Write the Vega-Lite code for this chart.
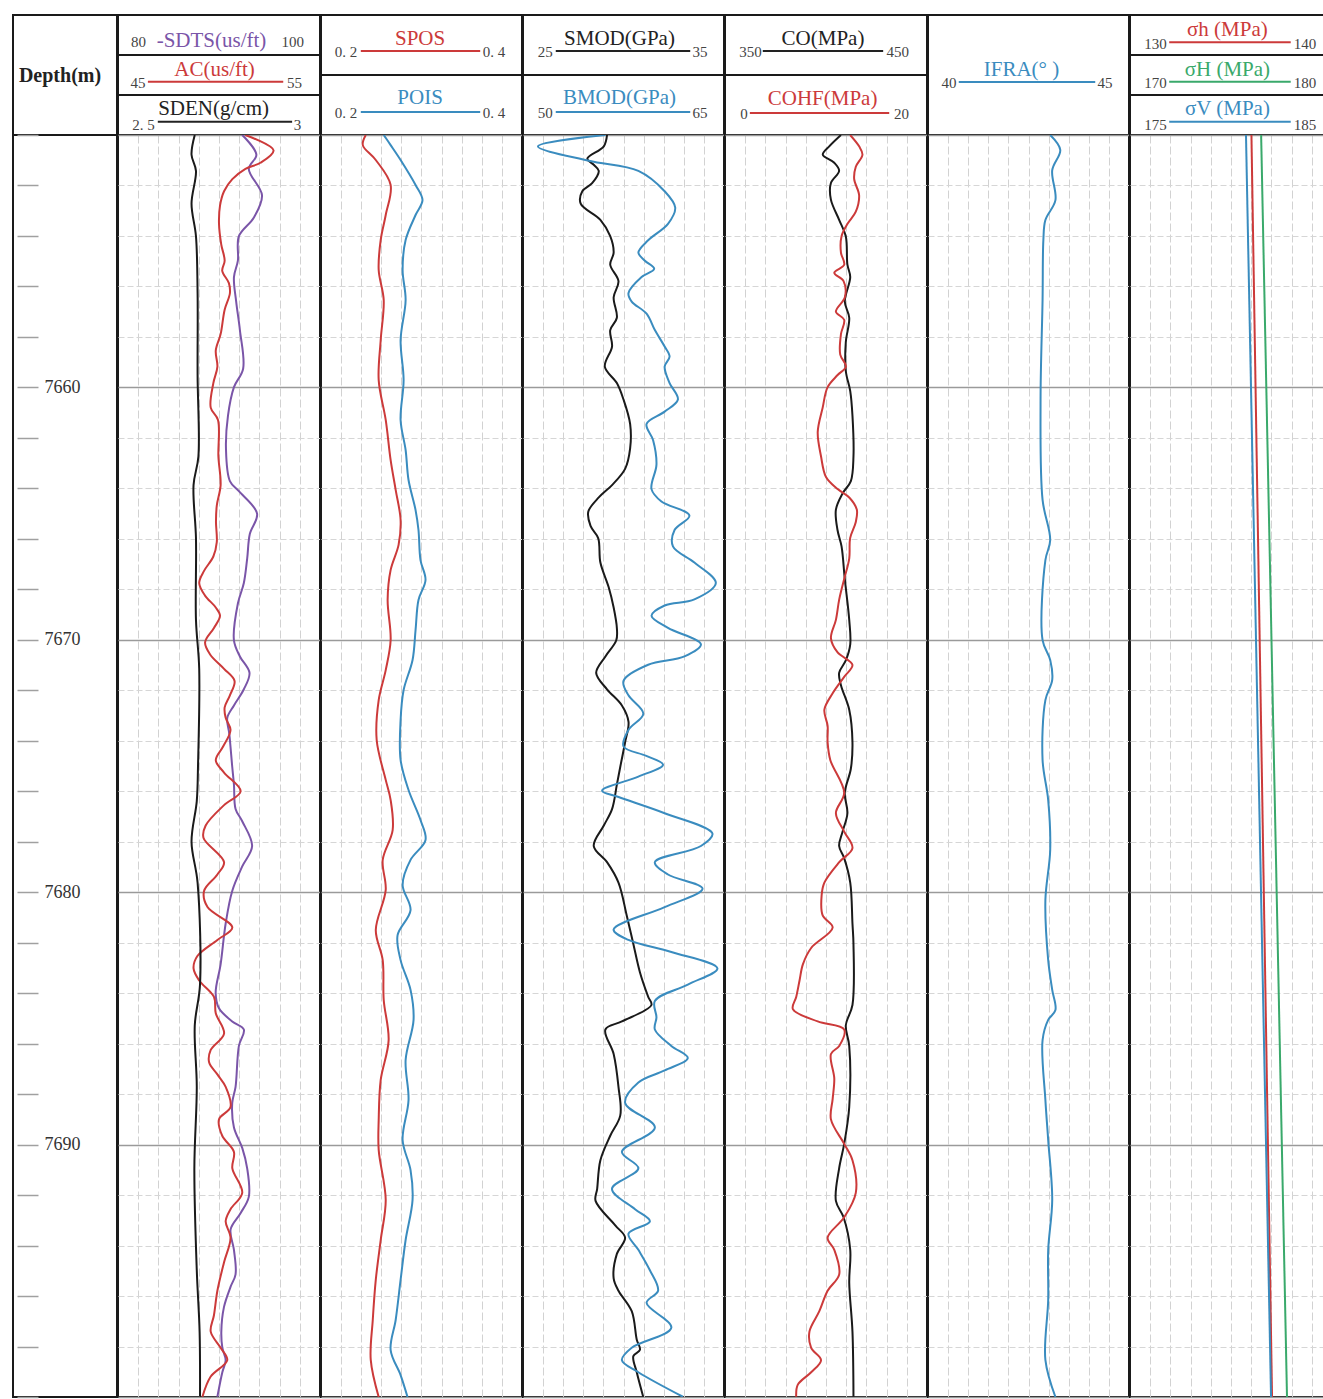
{
  "$schema": "https://vega.github.io/schema/vega-lite/v6.json",
  "padding": {"left": 12, "top": 14, "right": 0, "bottom": 1},
  "background": "white",
  "bounds": "full",
  "spacing": -2,
  "config": {
    "view": {"stroke": "#1a1a1a", "strokeWidth": 2},
    "text": {"font": "Liberation Serif"}
  },
  "resolve": {"scale": {"x": "independent", "y": "independent"}},
  "datasets": {
    "cell": [{}],
    "depthTicks": [{"d":7650},{"d":7652},{"d":7654},{"d":7656},{"d":7658},{"d":7660},{"d":7662},{"d":7664},{"d":7666},{"d":7668},{"d":7670},{"d":7672},{"d":7674},{"d":7676},{"d":7678},{"d":7680},{"d":7682},{"d":7684},{"d":7686},{"d":7688},{"d":7690},{"d":7692},{"d":7694},{"d":7696},{"d":7698},{"d":7700}],
    "sdts": [{"d":7650.0,"v":92.3},{"d":7650.78,"v":93.7},{"d":7651.34,"v":92.95},{"d":7652.39,"v":94.26},{"d":7653.28,"v":93.44},{"d":7654.01,"v":91.97},{"d":7654.98,"v":91.87},{"d":7655.63,"v":91.48},{"d":7656.6,"v":91.7},{"d":7657.73,"v":92.07},{"d":7659.26,"v":92.39},{"d":7659.99,"v":91.48},{"d":7661.12,"v":90.89},{"d":7662.42,"v":90.69},{"d":7663.71,"v":91.08},{"d":7664.11,"v":91.97},{"d":7665.0,"v":93.77},{"d":7665.81,"v":93.05},{"d":7666.78,"v":92.79},{"d":7667.75,"v":92.46},{"d":7668.56,"v":91.87},{"d":7670.02,"v":91.48},{"d":7670.66,"v":92.07},{"d":7671.31,"v":93.02},{"d":7671.96,"v":92.46},{"d":7672.6,"v":91.48},{"d":7673.09,"v":90.82},{"d":7673.73,"v":91.02},{"d":7675.03,"v":91.31},{"d":7675.74,"v":91.48},{"d":7676.7,"v":91.64},{"d":7677.19,"v":92.3},{"d":7678.17,"v":93.28},{"d":7678.98,"v":92.3},{"d":7679.95,"v":91.31},{"d":7681.24,"v":90.66},{"d":7682.86,"v":90.16},{"d":7683.99,"v":89.67},{"d":7684.6,"v":90.0},{"d":7685.12,"v":91.31},{"d":7685.44,"v":92.46},{"d":7686.09,"v":91.97},{"d":7687.71,"v":91.64},{"d":7688.35,"v":91.31},{"d":7689.32,"v":91.48},{"d":7690.13,"v":92.3},{"d":7690.94,"v":92.79},{"d":7692.07,"v":92.95},{"d":7692.72,"v":92.13},{"d":7693.36,"v":91.15},{"d":7694.17,"v":91.48},{"d":7695.14,"v":91.64},{"d":7695.63,"v":91.15},{"d":7696.44,"v":90.49},{"d":7697.41,"v":90.23},{"d":7698.05,"v":90.33},{"d":7698.54,"v":90.66},{"d":7699.02,"v":90.33},{"d":7699.99,"v":89.84}],
    "ac": [{"d":7650.0,"v":51.3},{"d":7650.61,"v":52.7},{"d":7651.1,"v":52.05},{"d":7651.34,"v":51.31},{"d":7651.75,"v":50.66},{"d":7652.23,"v":50.25},{"d":7652.8,"v":50.05},{"d":7653.52,"v":50.0},{"d":7654.33,"v":50.11},{"d":7654.98,"v":50.28},{"d":7655.38,"v":50.16},{"d":7655.87,"v":50.49},{"d":7656.27,"v":50.54},{"d":7656.92,"v":50.28},{"d":7657.89,"v":50.08},{"d":7658.54,"v":49.84},{"d":7659.18,"v":49.92},{"d":7659.83,"v":49.72},{"d":7660.8,"v":49.59},{"d":7661.29,"v":49.95},{"d":7662.74,"v":49.97},{"d":7663.87,"v":50.08},{"d":7664.68,"v":49.89},{"d":7665.33,"v":49.85},{"d":7666.13,"v":49.89},{"d":7666.7,"v":49.72},{"d":7667.27,"v":49.26},{"d":7667.75,"v":49.02},{"d":7668.24,"v":49.3},{"d":7668.72,"v":49.84},{"d":7669.05,"v":50.05},{"d":7669.53,"v":49.75},{"d":7670.1,"v":49.31},{"d":7670.58,"v":49.56},{"d":7671.15,"v":50.25},{"d":7671.63,"v":50.77},{"d":7672.2,"v":50.54},{"d":7672.68,"v":50.28},{"d":7673.09,"v":50.33},{"d":7673.57,"v":50.57},{"d":7674.22,"v":50.21},{"d":7674.77,"v":49.84},{"d":7675.26,"v":50.25},{"d":7676.0,"v":51.07},{"d":7676.55,"v":50.25},{"d":7677.36,"v":49.34},{"d":7677.84,"v":49.23},{"d":7678.81,"v":50.25},{"d":7679.3,"v":49.92},{"d":7679.95,"v":49.26},{"d":7680.59,"v":49.43},{"d":7681.4,"v":50.66},{"d":7681.89,"v":49.92},{"d":7682.53,"v":48.93},{"d":7683.02,"v":48.74},{"d":7683.5,"v":49.02},{"d":7684.15,"v":49.75},{"d":7684.8,"v":49.84},{"d":7685.6,"v":50.25},{"d":7686.25,"v":49.59},{"d":7686.74,"v":49.51},{"d":7687.22,"v":49.92},{"d":7687.71,"v":50.33},{"d":7688.51,"v":50.57},{"d":7689.0,"v":50.0},{"d":7689.65,"v":50.16},{"d":7690.29,"v":50.74},{"d":7690.94,"v":50.66},{"d":7691.91,"v":51.15},{"d":7692.56,"v":50.57},{"d":7693.04,"v":50.33},{"d":7693.69,"v":50.57},{"d":7694.66,"v":50.25},{"d":7695.79,"v":49.92},{"d":7696.76,"v":49.75},{"d":7697.41,"v":49.59},{"d":7698.05,"v":50.08},{"d":7698.54,"v":50.41},{"d":7699.19,"v":49.59},{"d":7699.99,"v":49.18}],
    "sden": [{"d":7650.0,"v":2.69},{"d":7650.78,"v":2.682},{"d":7651.42,"v":2.693},{"d":7652.72,"v":2.682},{"d":7654.01,"v":2.693},{"d":7656.27,"v":2.697},{"d":7659.51,"v":2.697},{"d":7662.74,"v":2.699},{"d":7663.87,"v":2.687},{"d":7665.97,"v":2.693},{"d":7669.21,"v":2.693},{"d":7671.15,"v":2.701},{"d":7675.03,"v":2.698},{"d":7676.39,"v":2.695},{"d":7678.0,"v":2.682},{"d":7679.62,"v":2.697},{"d":7683.66,"v":2.703},{"d":7685.28,"v":2.69},{"d":7687.71,"v":2.695},{"d":7690.94,"v":2.689},{"d":7694.98,"v":2.695},{"d":7697.41,"v":2.702},{"d":7699.99,"v":2.703}],
    "spos": [{"d":7650.0,"v":0.2446},{"d":7650.4,"v":0.2416},{"d":7650.99,"v":0.2545},{"d":7651.98,"v":0.2693},{"d":7653.17,"v":0.2644},{"d":7654.16,"v":0.2594},{"d":7655.35,"v":0.2574},{"d":7656.54,"v":0.2624},{"d":7658.12,"v":0.2594},{"d":7659.71,"v":0.2574},{"d":7661.29,"v":0.2644},{"d":7662.88,"v":0.2693},{"d":7664.06,"v":0.2743},{"d":7665.25,"v":0.2792},{"d":7666.24,"v":0.2772},{"d":7667.23,"v":0.2693},{"d":7668.42,"v":0.2663},{"d":7670.01,"v":0.2693},{"d":7671.2,"v":0.2644},{"d":7672.39,"v":0.2574},{"d":7673.97,"v":0.2554},{"d":7675.55,"v":0.2644},{"d":7676.35,"v":0.2693},{"d":7677.54,"v":0.2713},{"d":7678.72,"v":0.2614},{"d":7679.91,"v":0.2644},{"d":7681.5,"v":0.2545},{"d":7682.69,"v":0.2614},{"d":7684.27,"v":0.2624},{"d":7685.86,"v":0.2673},{"d":7687.44,"v":0.2594},{"d":7689.03,"v":0.2574},{"d":7690.21,"v":0.2574},{"d":7692.19,"v":0.2644},{"d":7693.78,"v":0.2594},{"d":7695.36,"v":0.2545},{"d":7696.95,"v":0.2515},{"d":7698.53,"v":0.2495},{"d":7700.0,"v":0.2574}],
    "pois": [{"d":7650.0,"v":0.2624},{"d":7650.4,"v":0.2693},{"d":7650.99,"v":0.2792},{"d":7651.98,"v":0.2941},{"d":7652.58,"v":0.301},{"d":7653.17,"v":0.2941},{"d":7654.16,"v":0.2842},{"d":7655.35,"v":0.2812},{"d":7656.54,"v":0.2842},{"d":7658.12,"v":0.2792},{"d":7659.71,"v":0.2822},{"d":7661.29,"v":0.2792},{"d":7662.48,"v":0.2842},{"d":7663.67,"v":0.2871},{"d":7664.86,"v":0.2941},{"d":7665.65,"v":0.297},{"d":7666.84,"v":0.299},{"d":7667.63,"v":0.304},{"d":7668.42,"v":0.297},{"d":7669.61,"v":0.2941},{"d":7670.8,"v":0.2911},{"d":7671.99,"v":0.2822},{"d":7673.18,"v":0.2792},{"d":7674.76,"v":0.2792},{"d":7675.95,"v":0.2871},{"d":7677.14,"v":0.299},{"d":7677.93,"v":0.304},{"d":7678.72,"v":0.2891},{"d":7679.71,"v":0.2812},{"d":7680.71,"v":0.2891},{"d":7681.7,"v":0.2762},{"d":7682.69,"v":0.2792},{"d":7683.87,"v":0.2891},{"d":7685.06,"v":0.2921},{"d":7686.65,"v":0.2842},{"d":7688.23,"v":0.2871},{"d":7689.82,"v":0.2812},{"d":7691.01,"v":0.2891},{"d":7692.19,"v":0.2911},{"d":7693.78,"v":0.2842},{"d":7695.36,"v":0.2792},{"d":7696.95,"v":0.2743},{"d":7698.14,"v":0.2693},{"d":7699.13,"v":0.2792},{"d":7700.0,"v":0.2861}],
    "smod": [{"d":7650.0,"v":29.18},{"d":7650.45,"v":29.02},{"d":7650.94,"v":28.2},{"d":7651.18,"v":28.52},{"d":7651.42,"v":28.77},{"d":7651.91,"v":28.44},{"d":7652.23,"v":27.95},{"d":7652.72,"v":27.87},{"d":7653.36,"v":28.85},{"d":7654.01,"v":29.34},{"d":7654.66,"v":29.51},{"d":7655.14,"v":29.34},{"d":7655.79,"v":29.75},{"d":7656.43,"v":29.51},{"d":7657.24,"v":29.67},{"d":7657.73,"v":29.34},{"d":7658.38,"v":29.43},{"d":7659.18,"v":29.07},{"d":7659.83,"v":29.67},{"d":7660.48,"v":30.0},{"d":7661.45,"v":30.33},{"d":7662.42,"v":30.33},{"d":7663.23,"v":30.08},{"d":7663.87,"v":29.43},{"d":7664.36,"v":28.77},{"d":7664.92,"v":28.25},{"d":7665.49,"v":28.36},{"d":7665.97,"v":28.74},{"d":7666.94,"v":28.85},{"d":7667.91,"v":29.26},{"d":7668.72,"v":29.51},{"d":7669.53,"v":29.67},{"d":7670.02,"v":29.64},{"d":7670.66,"v":29.1},{"d":7671.31,"v":28.64},{"d":7671.96,"v":29.18},{"d":7672.6,"v":29.92},{"d":7673.25,"v":30.25},{"d":7674.06,"v":30.08},{"d":7675.03,"v":29.84},{"d":7675.74,"v":29.67},{"d":7676.71,"v":29.43},{"d":7677.36,"v":29.02},{"d":7678.17,"v":28.52},{"d":7678.81,"v":29.18},{"d":7679.62,"v":29.75},{"d":7680.92,"v":30.16},{"d":7682.05,"v":30.49},{"d":7683.18,"v":30.82},{"d":7684.15,"v":31.23},{"d":7684.47,"v":31.39},{"d":7685.12,"v":29.92},{"d":7685.44,"v":29.1},{"d":7686.41,"v":29.51},{"d":7687.71,"v":29.75},{"d":7688.84,"v":29.84},{"d":7689.65,"v":29.34},{"d":7690.62,"v":28.85},{"d":7691.75,"v":28.69},{"d":7692.23,"v":28.61},{"d":7693.2,"v":29.59},{"d":7693.69,"v":30.08},{"d":7694.33,"v":29.67},{"d":7695.3,"v":29.51},{"d":7695.79,"v":29.75},{"d":7696.6,"v":30.41},{"d":7697.73,"v":30.66},{"d":7698.13,"v":30.82},{"d":7698.38,"v":30.49},{"d":7699.02,"v":30.66},{"d":7699.99,"v":30.98}],
    "bmod": [{"d":7650.0,"v":56.15},{"d":7650.45,"v":51.11},{"d":7651.02,"v":54.92},{"d":7651.42,"v":58.61},{"d":7652.23,"v":60.57},{"d":7652.88,"v":61.36},{"d":7653.52,"v":60.82},{"d":7654.17,"v":59.34},{"d":7654.66,"v":58.61},{"d":7654.98,"v":59.1},{"d":7655.3,"v":59.79},{"d":7655.63,"v":58.85},{"d":7656.27,"v":57.87},{"d":7656.6,"v":58.11},{"d":7657.08,"v":59.22},{"d":7657.73,"v":59.84},{"d":7658.38,"v":60.57},{"d":7658.78,"v":60.94},{"d":7659.18,"v":60.57},{"d":7659.83,"v":60.94},{"d":7660.48,"v":61.56},{"d":7660.96,"v":60.57},{"d":7661.45,"v":59.22},{"d":7662.09,"v":59.71},{"d":7663.06,"v":59.96},{"d":7664.03,"v":59.59},{"d":7664.52,"v":60.33},{"d":7665.08,"v":62.42},{"d":7665.65,"v":61.31},{"d":7666.3,"v":61.19},{"d":7666.94,"v":62.79},{"d":7667.75,"v":64.39},{"d":7668.4,"v":62.79},{"d":7668.64,"v":60.57},{"d":7669.05,"v":59.59},{"d":7669.53,"v":60.82},{"d":7670.18,"v":63.28},{"d":7670.66,"v":62.05},{"d":7670.99,"v":59.34},{"d":7671.63,"v":57.5},{"d":7672.2,"v":57.87},{"d":7672.93,"v":58.98},{"d":7673.57,"v":57.87},{"d":7674.22,"v":57.5},{"d":7674.6,"v":59.2},{"d":7674.95,"v":60.45},{"d":7675.42,"v":58.61},{"d":7675.98,"v":55.9},{"d":7676.23,"v":57.13},{"d":7676.87,"v":60.57},{"d":7677.68,"v":64.14},{"d":7678.17,"v":63.28},{"d":7678.81,"v":59.84},{"d":7679.3,"v":60.82},{"d":7679.86,"v":63.4},{"d":7680.59,"v":60.57},{"d":7681.48,"v":56.76},{"d":7681.89,"v":57.87},{"d":7682.37,"v":61.07},{"d":7683.02,"v":64.51},{"d":7683.66,"v":62.3},{"d":7684.31,"v":59.84},{"d":7684.96,"v":59.96},{"d":7685.44,"v":59.84},{"d":7686.09,"v":61.07},{"d":7686.57,"v":62.3},{"d":7687.06,"v":60.57},{"d":7687.54,"v":58.61},{"d":7688.35,"v":57.62},{"d":7689.32,"v":59.84},{"d":7690.29,"v":57.38},{"d":7690.94,"v":58.61},{"d":7691.75,"v":56.64},{"d":7692.56,"v":58.36},{"d":7693.04,"v":59.47},{"d":7693.53,"v":57.87},{"d":7694.17,"v":58.61},{"d":7694.98,"v":59.47},{"d":7695.79,"v":60.08},{"d":7696.27,"v":59.22},{"d":7697.25,"v":61.07},{"d":7698.05,"v":58.11},{"d":7698.54,"v":57.38},{"d":7699.02,"v":58.61},{"d":7699.99,"v":61.93}],
    "co": [{"d":7650.0,"v":407.4},{"d":7650.45,"v":401.6},{"d":7650.78,"v":398.4},{"d":7651.1,"v":404.1},{"d":7651.42,"v":406.5},{"d":7651.91,"v":402.4},{"d":7652.55,"v":402.4},{"d":7653.36,"v":406.5},{"d":7654.01,"v":409.8},{"d":7655.14,"v":410.6},{"d":7655.63,"v":412.0},{"d":7656.6,"v":409.3},{"d":7657.24,"v":411.5},{"d":7658.21,"v":409.8},{"d":7659.35,"v":409.8},{"d":7660.15,"v":412.0},{"d":7661.12,"v":413.1},{"d":7662.74,"v":413.6},{"d":7663.71,"v":412.3},{"d":7664.2,"v":408.2},{"d":7664.84,"v":404.9},{"d":7665.65,"v":405.7},{"d":7666.3,"v":407.7},{"d":7667.59,"v":409.3},{"d":7669.21,"v":411.5},{"d":7670.18,"v":412.0},{"d":7670.82,"v":409.8},{"d":7671.31,"v":406.5},{"d":7671.8,"v":407.4},{"d":7672.77,"v":411.5},{"d":7674.06,"v":413.1},{"d":7675.11,"v":412.3},{"d":7676.06,"v":409.3},{"d":7676.87,"v":410.6},{"d":7677.6,"v":408.2},{"d":7678.17,"v":406.5},{"d":7678.65,"v":409.0},{"d":7679.62,"v":412.0},{"d":7681.24,"v":413.1},{"d":7682.05,"v":413.6},{"d":7684.47,"v":413.1},{"d":7685.28,"v":409.8},{"d":7686.09,"v":411.5},{"d":7688.51,"v":411.5},{"d":7689.97,"v":409.0},{"d":7690.94,"v":406.5},{"d":7692.23,"v":404.9},{"d":7692.88,"v":408.7},{"d":7694.17,"v":412.0},{"d":7695.47,"v":411.5},{"d":7697.41,"v":413.1},{"d":7699.99,"v":413.6}],
    "cohf": [{"d":7650.0,"v":12.39},{"d":7650.45,"v":13.28},{"d":7650.78,"v":13.61},{"d":7651.26,"v":12.95},{"d":7651.75,"v":12.79},{"d":7652.39,"v":13.28},{"d":7653.04,"v":12.95},{"d":7653.52,"v":12.13},{"d":7654.01,"v":11.54},{"d":7654.66,"v":11.48},{"d":7655.14,"v":11.8},{"d":7655.46,"v":10.82},{"d":7655.79,"v":11.74},{"d":7656.43,"v":11.87},{"d":7657.0,"v":10.98},{"d":7657.32,"v":11.8},{"d":7657.89,"v":11.48},{"d":7658.7,"v":11.41},{"d":7659.18,"v":11.97},{"d":7659.51,"v":11.15},{"d":7659.99,"v":10.16},{"d":7660.8,"v":9.67},{"d":7661.77,"v":9.18},{"d":7662.74,"v":9.51},{"d":7663.55,"v":10.0},{"d":7664.03,"v":11.15},{"d":7664.36,"v":12.3},{"d":7664.84,"v":13.05},{"d":7665.33,"v":12.95},{"d":7665.97,"v":12.39},{"d":7666.78,"v":12.3},{"d":7667.59,"v":11.8},{"d":7668.4,"v":11.31},{"d":7669.21,"v":10.98},{"d":7669.94,"v":10.49},{"d":7670.5,"v":11.15},{"d":7670.99,"v":12.62},{"d":7671.47,"v":11.8},{"d":7672.12,"v":10.66},{"d":7672.77,"v":9.84},{"d":7673.41,"v":10.16},{"d":7674.06,"v":10.16},{"d":7674.77,"v":10.43},{"d":7676.06,"v":11.8},{"d":7676.87,"v":10.98},{"d":7677.6,"v":11.8},{"d":7678.25,"v":12.62},{"d":7678.81,"v":11.31},{"d":7679.62,"v":9.84},{"d":7680.11,"v":9.57},{"d":7680.92,"v":9.67},{"d":7681.4,"v":10.66},{"d":7682.21,"v":8.53},{"d":7682.86,"v":7.71},{"d":7683.5,"v":7.38},{"d":7684.15,"v":7.05},{"d":7684.63,"v":6.72},{"d":7685.12,"v":9.18},{"d":7685.44,"v":11.8},{"d":7686.09,"v":11.31},{"d":7686.41,"v":10.49},{"d":7687.38,"v":10.82},{"d":7688.19,"v":10.66},{"d":7689.0,"v":10.49},{"d":7689.97,"v":11.8},{"d":7690.62,"v":12.62},{"d":7691.91,"v":12.95},{"d":7692.88,"v":11.8},{"d":7693.69,"v":10.16},{"d":7694.17,"v":10.82},{"d":7695.14,"v":11.31},{"d":7695.79,"v":10.16},{"d":7696.6,"v":9.34},{"d":7697.41,"v":8.36},{"d":7698.05,"v":8.53},{"d":7698.54,"v":9.51},{"d":7699.02,"v":8.53},{"d":7699.51,"v":7.21},{"d":7699.99,"v":7.05}],
    "ifra": [{"d":7650.0,"v":43.04},{"d":7650.59,"v":43.29},{"d":7651.39,"v":43.09},{"d":7652.58,"v":43.17},{"d":7653.37,"v":42.92},{"d":7654.16,"v":42.87},{"d":7656.54,"v":42.85},{"d":7660.5,"v":42.8},{"d":7664.46,"v":42.85},{"d":7666.05,"v":43.04},{"d":7666.84,"v":42.92},{"d":7670.01,"v":42.85},{"d":7670.8,"v":43.04},{"d":7671.59,"v":43.09},{"d":7672.39,"v":42.92},{"d":7674.76,"v":42.85},{"d":7676.35,"v":42.99},{"d":7678.33,"v":43.04},{"d":7680.31,"v":42.92},{"d":7682.69,"v":42.99},{"d":7683.87,"v":43.09},{"d":7684.67,"v":43.17},{"d":7685.06,"v":42.99},{"d":7685.86,"v":42.85},{"d":7688.23,"v":42.92},{"d":7689.82,"v":42.99},{"d":7692.19,"v":43.09},{"d":7694.18,"v":42.99},{"d":7696.16,"v":42.99},{"d":7698.53,"v":42.92},{"d":7700.0,"v":43.17}],
    "sh": [{"d":7650,"v":136.01},{"d":7700,"v":137.03}],
    "sH": [{"d":7650,"v":176.49},{"d":7700,"v":177.77}],
    "sV": [{"d":7650,"v":180.74},{"d":7700,"v":181.98}]
  },
  "hconcat": [
    {
      "spacing": 0, "bounds": "flush",
      "resolve": {"scale": {"x": "independent", "y": "independent"}},
      "vconcat": [
        {"width": 104, "height": 120, "data": {"name": "cell"},
         "mark": {"type": "text", "text": "Depth(m)", "fontSize": 20, "fontWeight": "bold", "color": "#222"},
         "encoding": {"x": {"datum": 0.452, "scale": {"domain": [0, 1]}, "axis": null}, "y": {"datum": 0.51, "scale": {"domain": [0, 1], "reverse": true}, "axis": null}}},
        {"width": 104, "height": 1262,
         "data": {"name": "depthTicks"},
         "mark": {"type": "point", "opacity": 0},
         "encoding": {"y": {"field": "d", "type": "quantitative", "scale": {"domain": [7650, 7700], "reverse": true, "zero": false, "nice": false},
           "axis": {"orient": "right", "offset": -100, "values": [7650,7652,7654,7656,7658,7660,7662,7664,7666,7668,7670,7672,7674,7676,7678,7680,7682,7684,7686,7688,7690,7692,7694,7696,7698,7700],
             "tickSize": 21, "tickColor": "#a0a0a0", "tickWidth": 1.5, "domain": false, "grid": false, "title": null, "format": "d",
             "labelExpr": "datum.value % 10 === 0 && datum.value > 7650 && datum.value < 7700 ? datum.label : ''",
             "labelFont": "Liberation Serif", "labelFontSize": 18, "labelColor": "#333", "labelPadding": 6}}}}
      ]
    },
    {
      "spacing": 0, "bounds": "flush",
      "resolve": {"scale": {"x": "independent", "y": "independent"}},
      "vconcat": [
        {"width": 202, "height": 40, "data": {"name": "cell"}, "layer": [
          {"mark": {"type": "text", "text": "80", "fontSize": 15, "color": "#444"}, "encoding": {"x": {"datum": 0.101, "scale": {"domain": [0, 1]}, "axis": null}, "y": {"datum": 0.68, "scale": {"domain": [0, 1], "reverse": true}, "axis": null}}},
          {"mark": {"type": "text", "text": "-SDTS(us/ft)", "fontSize": 21, "color": "#7a55a8"}, "encoding": {"x": {"datum": 0.463, "scale": {"domain": [0, 1]}, "axis": null}, "y": {"datum": 0.64, "scale": {"domain": [0, 1], "reverse": true}, "axis": null}}},
          {"mark": {"type": "text", "text": "100", "fontSize": 15, "color": "#444"}, "encoding": {"x": {"datum": 0.865, "scale": {"domain": [0, 1]}, "axis": null}, "y": {"datum": 0.68, "scale": {"domain": [0, 1], "reverse": true}, "axis": null}}}
        ]},
        {"width": 202, "height": 40, "data": {"name": "cell"}, "layer": [
          {"mark": {"type": "text", "text": "AC(us/ft)", "fontSize": 21, "color": "#cc3a3a"}, "encoding": {"x": {"datum": 0.478, "scale": {"domain": [0, 1]}, "axis": null}, "y": {"datum": 0.37, "scale": {"domain": [0, 1], "reverse": true}, "axis": null}}},
          {"mark": {"type": "rule", "color": "#cc3a3a", "strokeWidth": 2}, "encoding": {"x": {"datum": 0.148, "scale": {"domain": [0, 1]}, "axis": null}, "x2": {"datum": 0.818}, "y": {"datum": 0.667, "scale": {"domain": [0, 1], "reverse": true}, "axis": null}}},
          {"mark": {"type": "text", "text": "45", "fontSize": 15, "color": "#444"}, "encoding": {"x": {"datum": 0.099, "scale": {"domain": [0, 1]}, "axis": null}, "y": {"datum": 0.71, "scale": {"domain": [0, 1], "reverse": true}, "axis": null}}},
          {"mark": {"type": "text", "text": "55", "fontSize": 15, "color": "#444"}, "encoding": {"x": {"datum": 0.874, "scale": {"domain": [0, 1]}, "axis": null}, "y": {"datum": 0.71, "scale": {"domain": [0, 1], "reverse": true}, "axis": null}}}
        ]},
        {"width": 202, "height": 40, "data": {"name": "cell"}, "layer": [
          {"mark": {"type": "text", "text": "SDEN(g/cm)", "fontSize": 21, "color": "#222"}, "encoding": {"x": {"datum": 0.473, "scale": {"domain": [0, 1]}, "axis": null}, "y": {"datum": 0.36, "scale": {"domain": [0, 1], "reverse": true}, "axis": null}}},
          {"mark": {"type": "rule", "color": "#222", "strokeWidth": 2}, "encoding": {"x": {"datum": 0.197, "scale": {"domain": [0, 1]}, "axis": null}, "x2": {"datum": 0.862}, "y": {"datum": 0.667, "scale": {"domain": [0, 1], "reverse": true}, "axis": null}}},
          {"mark": {"type": "text", "text": "2. 5", "fontSize": 15, "color": "#444"}, "encoding": {"x": {"datum": 0.126, "scale": {"domain": [0, 1]}, "axis": null}, "y": {"datum": 0.74, "scale": {"domain": [0, 1], "reverse": true}, "axis": null}}},
          {"mark": {"type": "text", "text": "3", "fontSize": 15, "color": "#444"}, "encoding": {"x": {"datum": 0.889, "scale": {"domain": [0, 1]}, "axis": null}, "y": {"datum": 0.74, "scale": {"domain": [0, 1], "reverse": true}, "axis": null}}}
        ]},
        {"width": 202, "height": 1262,
         "encoding": {"y": {"field": "d", "type": "quantitative", "scale": {"domain": [7650, 7700], "reverse": true, "zero": false, "nice": false},
           "axis": {"values": [7650,7652,7654,7656,7658,7660,7662,7664,7666,7668,7670,7672,7674,7676,7678,7680,7682,7684,7686,7688,7690,7692,7694,7696,7698,7700], "grid": true, "labels": false, "ticks": false, "domain": false, "title": null,
             "gridColor": {"condition": {"test": "datum.value % 10 === 0", "value": "#9a9a9a"}, "value": "#d6d6d6"},
             "gridDash": {"condition": {"test": "datum.value % 10 === 0", "value": []}, "value": [6, 3]},
             "gridWidth": {"condition": {"test": "datum.value % 10 === 0", "value": 1.5}, "value": 1}}}},
         "resolve": {"scale": {"x": "independent"}},
         "layer": [
          {"data": {"name": "sdts"}, "mark": {"type": "line", "color": "#7a55a8", "strokeWidth": 2, "interpolate": "catmull-rom", "clip": true},
           "encoding": {"x": {"field": "v", "type": "quantitative", "title": "SDTS", "scale": {"domain": [80, 100], "zero": false, "nice": false},
             "axis": {"values": [82,84,86,88,90,92,94,96,98], "grid": true, "labels": false, "ticks": false, "domain": false, "title": null, "gridColor": "#d2d2d2", "gridDash": [8, 3], "gridWidth": 1}},
             "order": {"field": "d", "type": "quantitative"}}},
          {"data": {"name": "ac"}, "mark": {"type": "line", "color": "#cc3a3a", "strokeWidth": 2, "interpolate": "catmull-rom", "clip": true},
           "encoding": {"x": {"field": "v", "type": "quantitative", "title": "AC", "scale": {"domain": [45, 55], "zero": false, "nice": false}, "axis": null},
             "order": {"field": "d", "type": "quantitative"}}},
          {"data": {"name": "sden"}, "mark": {"type": "line", "color": "#1a1a1a", "strokeWidth": 2, "interpolate": "catmull-rom", "clip": true},
           "encoding": {"x": {"field": "v", "type": "quantitative", "title": "SDEN", "scale": {"domain": [2.5, 3], "zero": false, "nice": false}, "axis": null},
             "order": {"field": "d", "type": "quantitative"}}}
         ]}
      ]
    },
    {
      "spacing": 0, "bounds": "flush",
      "resolve": {"scale": {"x": "independent", "y": "independent"}},
      "vconcat": [
        {"width": 201, "height": 60, "data": {"name": "cell"}, "layer": [
          {"mark": {"type": "text", "text": "SPOS", "fontSize": 21, "color": "#cc3a3a"}, "encoding": {"x": {"datum": 0.493, "scale": {"domain": [0, 1]}, "axis": null}, "y": {"datum": 0.4, "scale": {"domain": [0, 1], "reverse": true}, "axis": null}}},
          {"mark": {"type": "rule", "color": "#cc3a3a", "strokeWidth": 2}, "encoding": {"x": {"datum": 0.198, "scale": {"domain": [0, 1]}, "axis": null}, "x2": {"datum": 0.792}, "y": {"datum": 0.6, "scale": {"domain": [0, 1], "reverse": true}, "axis": null}}},
          {"mark": {"type": "text", "text": "0. 2", "fontSize": 15, "color": "#444"}, "encoding": {"x": {"datum": 0.124, "scale": {"domain": [0, 1]}, "axis": null}, "y": {"datum": 0.62, "scale": {"domain": [0, 1], "reverse": true}, "axis": null}}},
          {"mark": {"type": "text", "text": "0. 4", "fontSize": 15, "color": "#444"}, "encoding": {"x": {"datum": 0.861, "scale": {"domain": [0, 1]}, "axis": null}, "y": {"datum": 0.62, "scale": {"domain": [0, 1], "reverse": true}, "axis": null}}}
        ]},
        {"width": 201, "height": 60, "data": {"name": "cell"}, "layer": [
          {"mark": {"type": "text", "text": "POIS", "fontSize": 21, "color": "#3a8cbf"}, "encoding": {"x": {"datum": 0.493, "scale": {"domain": [0, 1]}, "axis": null}, "y": {"datum": 0.39, "scale": {"domain": [0, 1], "reverse": true}, "axis": null}}},
          {"mark": {"type": "rule", "color": "#3a8cbf", "strokeWidth": 2}, "encoding": {"x": {"datum": 0.198, "scale": {"domain": [0, 1]}, "axis": null}, "x2": {"datum": 0.792}, "y": {"datum": 0.617, "scale": {"domain": [0, 1], "reverse": true}, "axis": null}}},
          {"mark": {"type": "text", "text": "0. 2", "fontSize": 15, "color": "#444"}, "encoding": {"x": {"datum": 0.124, "scale": {"domain": [0, 1]}, "axis": null}, "y": {"datum": 0.635, "scale": {"domain": [0, 1], "reverse": true}, "axis": null}}},
          {"mark": {"type": "text", "text": "0. 4", "fontSize": 15, "color": "#444"}, "encoding": {"x": {"datum": 0.861, "scale": {"domain": [0, 1]}, "axis": null}, "y": {"datum": 0.635, "scale": {"domain": [0, 1], "reverse": true}, "axis": null}}}
        ]},
        {"width": 201, "height": 1262,
         "encoding": {"y": {"field": "d", "type": "quantitative", "scale": {"domain": [7650, 7700], "reverse": true, "zero": false, "nice": false},
           "axis": {"values": [7650,7652,7654,7656,7658,7660,7662,7664,7666,7668,7670,7672,7674,7676,7678,7680,7682,7684,7686,7688,7690,7692,7694,7696,7698,7700], "grid": true, "labels": false, "ticks": false, "domain": false, "title": null,
             "gridColor": {"condition": {"test": "datum.value % 10 === 0", "value": "#9a9a9a"}, "value": "#d6d6d6"},
             "gridDash": {"condition": {"test": "datum.value % 10 === 0", "value": []}, "value": [6, 3]},
             "gridWidth": {"condition": {"test": "datum.value % 10 === 0", "value": 1.5}, "value": 1}}}},
         "resolve": {"scale": {"x": "independent"}},
         "layer": [
          {"data": {"name": "spos"}, "mark": {"type": "line", "color": "#cc3a3a", "strokeWidth": 2, "interpolate": "catmull-rom", "clip": true},
           "encoding": {"x": {"field": "v", "type": "quantitative", "title": "SPOS", "scale": {"domain": [0.2, 0.4], "zero": false, "nice": false},
             "axis": {"values": [0.22,0.24,0.26,0.28,0.3,0.32,0.34,0.36,0.38], "grid": true, "labels": false, "ticks": false, "domain": false, "title": null, "gridColor": "#d2d2d2", "gridDash": [8, 3], "gridWidth": 1}},
             "order": {"field": "d", "type": "quantitative"}}},
          {"data": {"name": "pois"}, "mark": {"type": "line", "color": "#3a8cbf", "strokeWidth": 2, "interpolate": "catmull-rom", "clip": true},
           "encoding": {"x": {"field": "v", "type": "quantitative", "title": "POIS", "scale": {"domain": [0.2, 0.4], "zero": false, "nice": false}, "axis": null},
             "order": {"field": "d", "type": "quantitative"}}}
         ]}
      ]
    },
    {
      "spacing": 0, "bounds": "flush",
      "resolve": {"scale": {"x": "independent", "y": "independent"}},
      "vconcat": [
        {"width": 201, "height": 60, "data": {"name": "cell"}, "layer": [
          {"mark": {"type": "text", "text": "SMOD(GPa)", "fontSize": 21, "color": "#222"}, "encoding": {"x": {"datum": 0.48, "scale": {"domain": [0, 1]}, "axis": null}, "y": {"datum": 0.4, "scale": {"domain": [0, 1], "reverse": true}, "axis": null}}},
          {"mark": {"type": "rule", "color": "#222", "strokeWidth": 2}, "encoding": {"x": {"datum": 0.163, "scale": {"domain": [0, 1]}, "axis": null}, "x2": {"datum": 0.832}, "y": {"datum": 0.6, "scale": {"domain": [0, 1], "reverse": true}, "axis": null}}},
          {"mark": {"type": "text", "text": "25", "fontSize": 15, "color": "#444"}, "encoding": {"x": {"datum": 0.111, "scale": {"domain": [0, 1]}, "axis": null}, "y": {"datum": 0.62, "scale": {"domain": [0, 1], "reverse": true}, "axis": null}}},
          {"mark": {"type": "text", "text": "35", "fontSize": 15, "color": "#444"}, "encoding": {"x": {"datum": 0.881, "scale": {"domain": [0, 1]}, "axis": null}, "y": {"datum": 0.62, "scale": {"domain": [0, 1], "reverse": true}, "axis": null}}}
        ]},
        {"width": 201, "height": 60, "data": {"name": "cell"}, "layer": [
          {"mark": {"type": "text", "text": "BMOD(GPa)", "fontSize": 21, "color": "#3a8cbf"}, "encoding": {"x": {"datum": 0.48, "scale": {"domain": [0, 1]}, "axis": null}, "y": {"datum": 0.39, "scale": {"domain": [0, 1], "reverse": true}, "axis": null}}},
          {"mark": {"type": "rule", "color": "#3a8cbf", "strokeWidth": 2}, "encoding": {"x": {"datum": 0.163, "scale": {"domain": [0, 1]}, "axis": null}, "x2": {"datum": 0.832}, "y": {"datum": 0.617, "scale": {"domain": [0, 1], "reverse": true}, "axis": null}}},
          {"mark": {"type": "text", "text": "50", "fontSize": 15, "color": "#444"}, "encoding": {"x": {"datum": 0.111, "scale": {"domain": [0, 1]}, "axis": null}, "y": {"datum": 0.635, "scale": {"domain": [0, 1], "reverse": true}, "axis": null}}},
          {"mark": {"type": "text", "text": "65", "fontSize": 15, "color": "#444"}, "encoding": {"x": {"datum": 0.881, "scale": {"domain": [0, 1]}, "axis": null}, "y": {"datum": 0.635, "scale": {"domain": [0, 1], "reverse": true}, "axis": null}}}
        ]},
        {"width": 201, "height": 1262,
         "encoding": {"y": {"field": "d", "type": "quantitative", "scale": {"domain": [7650, 7700], "reverse": true, "zero": false, "nice": false},
           "axis": {"values": [7650,7652,7654,7656,7658,7660,7662,7664,7666,7668,7670,7672,7674,7676,7678,7680,7682,7684,7686,7688,7690,7692,7694,7696,7698,7700], "grid": true, "labels": false, "ticks": false, "domain": false, "title": null,
             "gridColor": {"condition": {"test": "datum.value % 10 === 0", "value": "#9a9a9a"}, "value": "#d6d6d6"},
             "gridDash": {"condition": {"test": "datum.value % 10 === 0", "value": []}, "value": [6, 3]},
             "gridWidth": {"condition": {"test": "datum.value % 10 === 0", "value": 1.5}, "value": 1}}}},
         "resolve": {"scale": {"x": "independent"}},
         "layer": [
          {"data": {"name": "smod"}, "mark": {"type": "line", "color": "#1a1a1a", "strokeWidth": 2, "interpolate": "catmull-rom", "clip": true},
           "encoding": {"x": {"field": "v", "type": "quantitative", "title": "SMOD", "scale": {"domain": [25, 35], "zero": false, "nice": false},
             "axis": {"values": [26,27,28,29,30,31,32,33,34], "grid": true, "labels": false, "ticks": false, "domain": false, "title": null, "gridColor": "#d2d2d2", "gridDash": [8, 3], "gridWidth": 1}},
             "order": {"field": "d", "type": "quantitative"}}},
          {"data": {"name": "bmod"}, "mark": {"type": "line", "color": "#3a8cbf", "strokeWidth": 2, "interpolate": "catmull-rom", "clip": true},
           "encoding": {"x": {"field": "v", "type": "quantitative", "title": "BMOD", "scale": {"domain": [50, 65], "zero": false, "nice": false}, "axis": null},
             "order": {"field": "d", "type": "quantitative"}}}
         ]}
      ]
    },
    {
      "spacing": 0, "bounds": "flush",
      "resolve": {"scale": {"x": "independent", "y": "independent"}},
      "vconcat": [
        {"width": 202, "height": 60, "data": {"name": "cell"}, "layer": [
          {"mark": {"type": "text", "text": "CO(MPa)", "fontSize": 21, "color": "#222"}, "encoding": {"x": {"datum": 0.485, "scale": {"domain": [0, 1]}, "axis": null}, "y": {"datum": 0.4, "scale": {"domain": [0, 1], "reverse": true}, "axis": null}}},
          {"mark": {"type": "rule", "color": "#222", "strokeWidth": 2}, "encoding": {"x": {"datum": 0.187, "scale": {"domain": [0, 1]}, "axis": null}, "x2": {"datum": 0.783}, "y": {"datum": 0.6, "scale": {"domain": [0, 1], "reverse": true}, "axis": null}}},
          {"mark": {"type": "text", "text": "350", "fontSize": 15, "color": "#444"}, "encoding": {"x": {"datum": 0.126, "scale": {"domain": [0, 1]}, "axis": null}, "y": {"datum": 0.62, "scale": {"domain": [0, 1], "reverse": true}, "axis": null}}},
          {"mark": {"type": "text", "text": "450", "fontSize": 15, "color": "#444"}, "encoding": {"x": {"datum": 0.855, "scale": {"domain": [0, 1]}, "axis": null}, "y": {"datum": 0.62, "scale": {"domain": [0, 1], "reverse": true}, "axis": null}}}
        ]},
        {"width": 202, "height": 60, "data": {"name": "cell"}, "layer": [
          {"mark": {"type": "text", "text": "COHF(MPa)", "fontSize": 21, "color": "#cc3a3a"}, "encoding": {"x": {"datum": 0.483, "scale": {"domain": [0, 1]}, "axis": null}, "y": {"datum": 0.4, "scale": {"domain": [0, 1], "reverse": true}, "axis": null}}},
          {"mark": {"type": "rule", "color": "#cc3a3a", "strokeWidth": 2}, "encoding": {"x": {"datum": 0.123, "scale": {"domain": [0, 1]}, "axis": null}, "x2": {"datum": 0.813}, "y": {"datum": 0.633, "scale": {"domain": [0, 1], "reverse": true}, "axis": null}}},
          {"mark": {"type": "text", "text": "0", "fontSize": 15, "color": "#444"}, "encoding": {"x": {"datum": 0.094, "scale": {"domain": [0, 1]}, "axis": null}, "y": {"datum": 0.645, "scale": {"domain": [0, 1], "reverse": true}, "axis": null}}},
          {"mark": {"type": "text", "text": "20", "fontSize": 15, "color": "#444"}, "encoding": {"x": {"datum": 0.874, "scale": {"domain": [0, 1]}, "axis": null}, "y": {"datum": 0.645, "scale": {"domain": [0, 1], "reverse": true}, "axis": null}}}
        ]},
        {"width": 202, "height": 1262,
         "encoding": {"y": {"field": "d", "type": "quantitative", "scale": {"domain": [7650, 7700], "reverse": true, "zero": false, "nice": false},
           "axis": {"values": [7650,7652,7654,7656,7658,7660,7662,7664,7666,7668,7670,7672,7674,7676,7678,7680,7682,7684,7686,7688,7690,7692,7694,7696,7698,7700], "grid": true, "labels": false, "ticks": false, "domain": false, "title": null,
             "gridColor": {"condition": {"test": "datum.value % 10 === 0", "value": "#9a9a9a"}, "value": "#d6d6d6"},
             "gridDash": {"condition": {"test": "datum.value % 10 === 0", "value": []}, "value": [6, 3]},
             "gridWidth": {"condition": {"test": "datum.value % 10 === 0", "value": 1.5}, "value": 1}}}},
         "resolve": {"scale": {"x": "independent"}},
         "layer": [
          {"data": {"name": "co"}, "mark": {"type": "line", "color": "#1a1a1a", "strokeWidth": 2, "interpolate": "catmull-rom", "clip": true},
           "encoding": {"x": {"field": "v", "type": "quantitative", "title": "CO", "scale": {"domain": [350, 450], "zero": false, "nice": false},
             "axis": {"values": [360,370,380,390,400,410,420,430,440], "grid": true, "labels": false, "ticks": false, "domain": false, "title": null, "gridColor": "#d2d2d2", "gridDash": [8, 3], "gridWidth": 1}},
             "order": {"field": "d", "type": "quantitative"}}},
          {"data": {"name": "cohf"}, "mark": {"type": "line", "color": "#cc3a3a", "strokeWidth": 2, "interpolate": "catmull-rom", "clip": true},
           "encoding": {"x": {"field": "v", "type": "quantitative", "title": "COHF", "scale": {"domain": [0, 20], "zero": false, "nice": false}, "axis": null},
             "order": {"field": "d", "type": "quantitative"}}}
         ]}
      ]
    },
    {
      "spacing": 0, "bounds": "flush",
      "resolve": {"scale": {"x": "independent", "y": "independent"}},
      "vconcat": [
        {"width": 201, "height": 120, "data": {"name": "cell"}, "layer": [
          {"mark": {"type": "text", "text": "IFRA(°  )", "fontSize": 21, "color": "#3a8cbf"}, "encoding": {"x": {"datum": 0.465, "scale": {"domain": [0, 1]}, "axis": null}, "y": {"datum": 0.46, "scale": {"domain": [0, 1], "reverse": true}, "axis": null}}},
          {"mark": {"type": "rule", "color": "#3a8cbf", "strokeWidth": 2}, "encoding": {"x": {"datum": 0.153, "scale": {"domain": [0, 1]}, "axis": null}, "x2": {"datum": 0.832}, "y": {"datum": 0.558, "scale": {"domain": [0, 1], "reverse": true}, "axis": null}}},
          {"mark": {"type": "text", "text": "40", "fontSize": 15, "color": "#444"}, "encoding": {"x": {"datum": 0.104, "scale": {"domain": [0, 1]}, "axis": null}, "y": {"datum": 0.567, "scale": {"domain": [0, 1], "reverse": true}, "axis": null}}},
          {"mark": {"type": "text", "text": "45", "fontSize": 15, "color": "#444"}, "encoding": {"x": {"datum": 0.881, "scale": {"domain": [0, 1]}, "axis": null}, "y": {"datum": 0.567, "scale": {"domain": [0, 1], "reverse": true}, "axis": null}}}
        ]},
        {"width": 201, "height": 1262,
         "encoding": {"y": {"field": "d", "type": "quantitative", "scale": {"domain": [7650, 7700], "reverse": true, "zero": false, "nice": false},
           "axis": {"values": [7650,7652,7654,7656,7658,7660,7662,7664,7666,7668,7670,7672,7674,7676,7678,7680,7682,7684,7686,7688,7690,7692,7694,7696,7698,7700], "grid": true, "labels": false, "ticks": false, "domain": false, "title": null,
             "gridColor": {"condition": {"test": "datum.value % 10 === 0", "value": "#9a9a9a"}, "value": "#d6d6d6"},
             "gridDash": {"condition": {"test": "datum.value % 10 === 0", "value": []}, "value": [6, 3]},
             "gridWidth": {"condition": {"test": "datum.value % 10 === 0", "value": 1.5}, "value": 1}}}},
         "layer": [
          {"data": {"name": "ifra"}, "mark": {"type": "line", "color": "#3a8cbf", "strokeWidth": 2, "interpolate": "catmull-rom", "clip": true},
           "encoding": {"x": {"field": "v", "type": "quantitative", "title": "IFRA", "scale": {"domain": [40, 45], "zero": false, "nice": false},
             "axis": {"values": [40.5,41,41.5,42,42.5,43,43.5,44,44.5], "grid": true, "labels": false, "ticks": false, "domain": false, "title": null, "gridColor": "#d2d2d2", "gridDash": [8, 3], "gridWidth": 1}},
             "order": {"field": "d", "type": "quantitative"}}}
         ]}
      ]
    },
    {
      "spacing": 0, "bounds": "flush",
      "resolve": {"scale": {"x": "independent", "y": "independent"}},
      "vconcat": [
        {"width": 196, "height": 40, "data": {"name": "cell"}, "layer": [
          {"mark": {"type": "text", "text": "σh (MPa)", "fontSize": 21, "color": "#cc3a3a"}, "encoding": {"x": {"datum": 0.497, "scale": {"domain": [0, 1]}, "axis": null}, "y": {"datum": 0.38, "scale": {"domain": [0, 1], "reverse": true}, "axis": null}}},
          {"mark": {"type": "rule", "color": "#cc3a3a", "strokeWidth": 2}, "encoding": {"x": {"datum": 0.2, "scale": {"domain": [0, 1]}, "axis": null}, "x2": {"datum": 0.82}, "y": {"datum": 0.68, "scale": {"domain": [0, 1], "reverse": true}, "axis": null}}},
          {"mark": {"type": "text", "text": "130", "fontSize": 15, "color": "#444"}, "encoding": {"x": {"datum": 0.13, "scale": {"domain": [0, 1]}, "axis": null}, "y": {"datum": 0.72, "scale": {"domain": [0, 1], "reverse": true}, "axis": null}}},
          {"mark": {"type": "text", "text": "140", "fontSize": 15, "color": "#444"}, "encoding": {"x": {"datum": 0.893, "scale": {"domain": [0, 1]}, "axis": null}, "y": {"datum": 0.72, "scale": {"domain": [0, 1], "reverse": true}, "axis": null}}}
        ]},
        {"width": 196, "height": 40, "data": {"name": "cell"}, "layer": [
          {"mark": {"type": "text", "text": "σH (MPa)", "fontSize": 21, "color": "#3aa96b"}, "encoding": {"x": {"datum": 0.497, "scale": {"domain": [0, 1]}, "axis": null}, "y": {"datum": 0.37, "scale": {"domain": [0, 1], "reverse": true}, "axis": null}}},
          {"mark": {"type": "rule", "color": "#3aa96b", "strokeWidth": 2}, "encoding": {"x": {"datum": 0.2, "scale": {"domain": [0, 1]}, "axis": null}, "x2": {"datum": 0.82}, "y": {"datum": 0.667, "scale": {"domain": [0, 1], "reverse": true}, "axis": null}}},
          {"mark": {"type": "text", "text": "170", "fontSize": 15, "color": "#444"}, "encoding": {"x": {"datum": 0.13, "scale": {"domain": [0, 1]}, "axis": null}, "y": {"datum": 0.71, "scale": {"domain": [0, 1], "reverse": true}, "axis": null}}},
          {"mark": {"type": "text", "text": "180", "fontSize": 15, "color": "#444"}, "encoding": {"x": {"datum": 0.893, "scale": {"domain": [0, 1]}, "axis": null}, "y": {"datum": 0.71, "scale": {"domain": [0, 1], "reverse": true}, "axis": null}}}
        ]},
        {"width": 196, "height": 40, "data": {"name": "cell"}, "layer": [
          {"mark": {"type": "text", "text": "σV (MPa)", "fontSize": 21, "color": "#3a8cbf"}, "encoding": {"x": {"datum": 0.497, "scale": {"domain": [0, 1]}, "axis": null}, "y": {"datum": 0.34, "scale": {"domain": [0, 1], "reverse": true}, "axis": null}}},
          {"mark": {"type": "rule", "color": "#3a8cbf", "strokeWidth": 2}, "encoding": {"x": {"datum": 0.2, "scale": {"domain": [0, 1]}, "axis": null}, "x2": {"datum": 0.82}, "y": {"datum": 0.667, "scale": {"domain": [0, 1], "reverse": true}, "axis": null}}},
          {"mark": {"type": "text", "text": "175", "fontSize": 15, "color": "#444"}, "encoding": {"x": {"datum": 0.13, "scale": {"domain": [0, 1]}, "axis": null}, "y": {"datum": 0.74, "scale": {"domain": [0, 1], "reverse": true}, "axis": null}}},
          {"mark": {"type": "text", "text": "185", "fontSize": 15, "color": "#444"}, "encoding": {"x": {"datum": 0.893, "scale": {"domain": [0, 1]}, "axis": null}, "y": {"datum": 0.74, "scale": {"domain": [0, 1], "reverse": true}, "axis": null}}}
        ]},
        {"width": 196, "height": 1262,
         "encoding": {"y": {"field": "d", "type": "quantitative", "scale": {"domain": [7650, 7700], "reverse": true, "zero": false, "nice": false},
           "axis": {"values": [7650,7652,7654,7656,7658,7660,7662,7664,7666,7668,7670,7672,7674,7676,7678,7680,7682,7684,7686,7688,7690,7692,7694,7696,7698,7700], "grid": true, "labels": false, "ticks": false, "domain": false, "title": null,
             "gridColor": {"condition": {"test": "datum.value % 10 === 0", "value": "#9a9a9a"}, "value": "#d6d6d6"},
             "gridDash": {"condition": {"test": "datum.value % 10 === 0", "value": []}, "value": [6, 3]},
             "gridWidth": {"condition": {"test": "datum.value % 10 === 0", "value": 1.5}, "value": 1}}}},
         "resolve": {"scale": {"x": "independent"}},
         "layer": [
          {"data": {"name": "sh"}, "mark": {"type": "line", "color": "#cc3a3a", "strokeWidth": 2, "clip": true},
           "encoding": {"x": {"field": "v", "type": "quantitative", "title": "σh", "scale": {"domain": [130, 139.7], "zero": false, "nice": false},
             "axis": {"values": [131,132,133,134,135,136,137,138,139], "grid": true, "labels": false, "ticks": false, "domain": false, "title": null, "gridColor": "#d2d2d2", "gridDash": [8, 3], "gridWidth": 1}},
             "order": {"field": "d", "type": "quantitative"}}},
          {"data": {"name": "sH"}, "mark": {"type": "line", "color": "#3aa96b", "strokeWidth": 2, "clip": true},
           "encoding": {"x": {"field": "v", "type": "quantitative", "title": "σH", "scale": {"domain": [170, 179.7], "zero": false, "nice": false}, "axis": null},
             "order": {"field": "d", "type": "quantitative"}}},
          {"data": {"name": "sV"}, "mark": {"type": "line", "color": "#3a8cbf", "strokeWidth": 2, "clip": true},
           "encoding": {"x": {"field": "v", "type": "quantitative", "title": "σV", "scale": {"domain": [175, 184.7], "zero": false, "nice": false}, "axis": null},
             "order": {"field": "d", "type": "quantitative"}}}
         ]}
      ]
    }
  ]
}
